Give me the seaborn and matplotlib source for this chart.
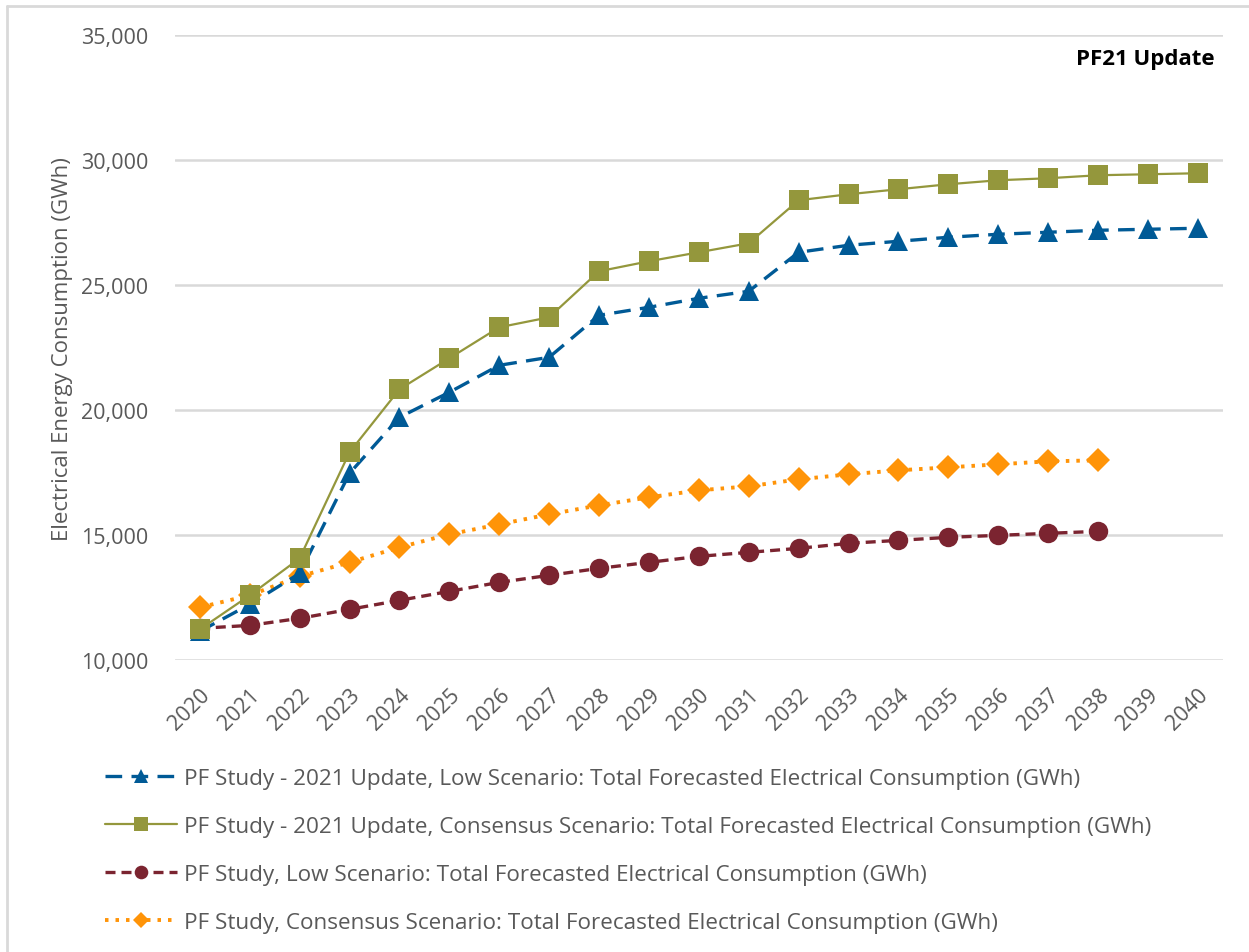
import numpy as np
import pandas as pd
import seaborn as sns
import matplotlib.pyplot as plt
from matplotlib.lines import Line2D

# %%
years = list(range(2020, 2041))
years_old = list(range(2020, 2039))

upd_low = [11160, 12240, 13480, 17480, 19720, 20720, 21800, 22120, 23800, 24120,
           24480, 24760, 26320, 26600, 26760, 26920, 27040, 27120, 27200, 27240, 27280]
upd_cons = [11240, 12600, 14080, 18320, 20840, 22080, 23320, 23720, 25560, 25960,
            26320, 26680, 28400, 28640, 28840, 29040, 29200, 29280, 29400, 29440, 29480]
old_low = [11280, 11400, 11680, 12040, 12400, 12760, 13120, 13400, 13680, 13920,
           14160, 14320, 14480, 14680, 14800, 14920, 15000, 15080, 15160]
old_cons = [12120, 12600, 13360, 13920, 14520, 15040, 15440, 15840, 16200, 16520,
            16800, 16960, 17240, 17440, 17600, 17720, 17840, 17960, 18000]

labels = [
    'PF Study - 2021 Update, Low Scenario: Total Forecasted Electrical Consumption (GWh)',
    'PF Study - 2021 Update, Consensus Scenario: Total Forecasted Electrical Consumption (GWh)',
    'PF Study, Low Scenario: Total Forecasted Electrical Consumption (GWh)',
    'PF Study, Consensus Scenario: Total Forecasted Electrical Consumption (GWh)',
]

# %%
sns.set_style('white')
plt.rcParams['font.family'] = ['Open Sans', 'DejaVu Sans']
grey = '#595959'
fs = 15.5

fig = plt.figure(figsize=(12.49, 9.53), dpi=100)
ax = fig.add_axes([0.140, 0.306, 0.839, 0.656])

styles = [
    dict(x=years, y=upd_low, color='#005A96', ls=(0, (5, 2.8)), lw=2.4, marker='^', ms=14),
    dict(x=years, y=upd_cons, color='#94973C', ls='-', lw=1.6, marker='s', ms=14),
    dict(x=years_old, y=old_low, color='#7B2430', ls=(0, (3, 1.8)), lw=2.4, marker='o', ms=14),
    dict(x=years_old, y=old_cons, color='#FF9408', ls=(0, (0.9, 1.8)), lw=2.8, marker='D', ms=12),
]
order = [3, 2, 0, 1]
handles = []
for i in order:
    s = styles[i]
    df = pd.DataFrame({'year': s['x'], 'gwh': s['y']})
    sns.lineplot(data=df, x='year', y='gwh', ax=ax, color=s['color'], linestyle=s['ls'],
                 linewidth=s['lw'], marker=s['marker'], markersize=s['ms'],
                 markeredgewidth=0, zorder=3 + order.index(i))
for s, lab in zip(styles, labels):
    handles.append(Line2D([0], [0], color=s['color'], linestyle=s['ls'], linewidth=s['lw'],
                          marker=s['marker'], markersize=s['ms'] * 0.7, markeredgewidth=0,
                          label=lab))

ax.set_xlim(2019.5, 2040.5)
ax.set_ylim(10000, 35000)
ax.set_yticks(np.arange(10000, 35001, 5000))
ax.yaxis.set_major_formatter(plt.FuncFormatter(lambda v, p: f'{int(v):,}'))
ax.set_xticks(years)
ax.set_xticklabels([str(y) for y in years], rotation=45, ha='right',
                   rotation_mode='anchor', fontsize=fs, color=grey)
ax.tick_params(axis='y', labelsize=fs, labelcolor=grey, length=0, pad=19)
ax.tick_params(axis='x', length=0, pad=17)
ax.grid(axis='y', color='#D9D9D9', linewidth=1.8)
ax.set_axisbelow(True)
sns.despine(ax=ax, left=True, bottom=True)
ax.set_xlabel('')
ax.set_ylabel('Electrical Energy Consumption (GWh)', fontsize=16, color=grey, labelpad=6)
ax.text(0.992, 0.979, 'PF21 Update', transform=ax.transAxes, ha='right', va='top',
        fontsize=16, fontweight='bold', color='black')

fig.legend(handles=handles, loc='upper left', bbox_to_anchor=(0.084, 0.193),
           frameon=False, fontsize=16.2, labelcolor=grey, handlelength=3.2,
           handletextpad=0.3, labelspacing=1.2, borderpad=0, borderaxespad=0)

fig.add_artist(Line2D([0.0055, 0.0055], [0, 0.9925], color='#D9D9D9', lw=2,
                      transform=fig.transFigure))
fig.add_artist(Line2D([0.0055, 1], [0.9925, 0.9925], color='#D9D9D9', lw=2,
                      transform=fig.transFigure))

fig.savefig('out.png', dpi=100)
